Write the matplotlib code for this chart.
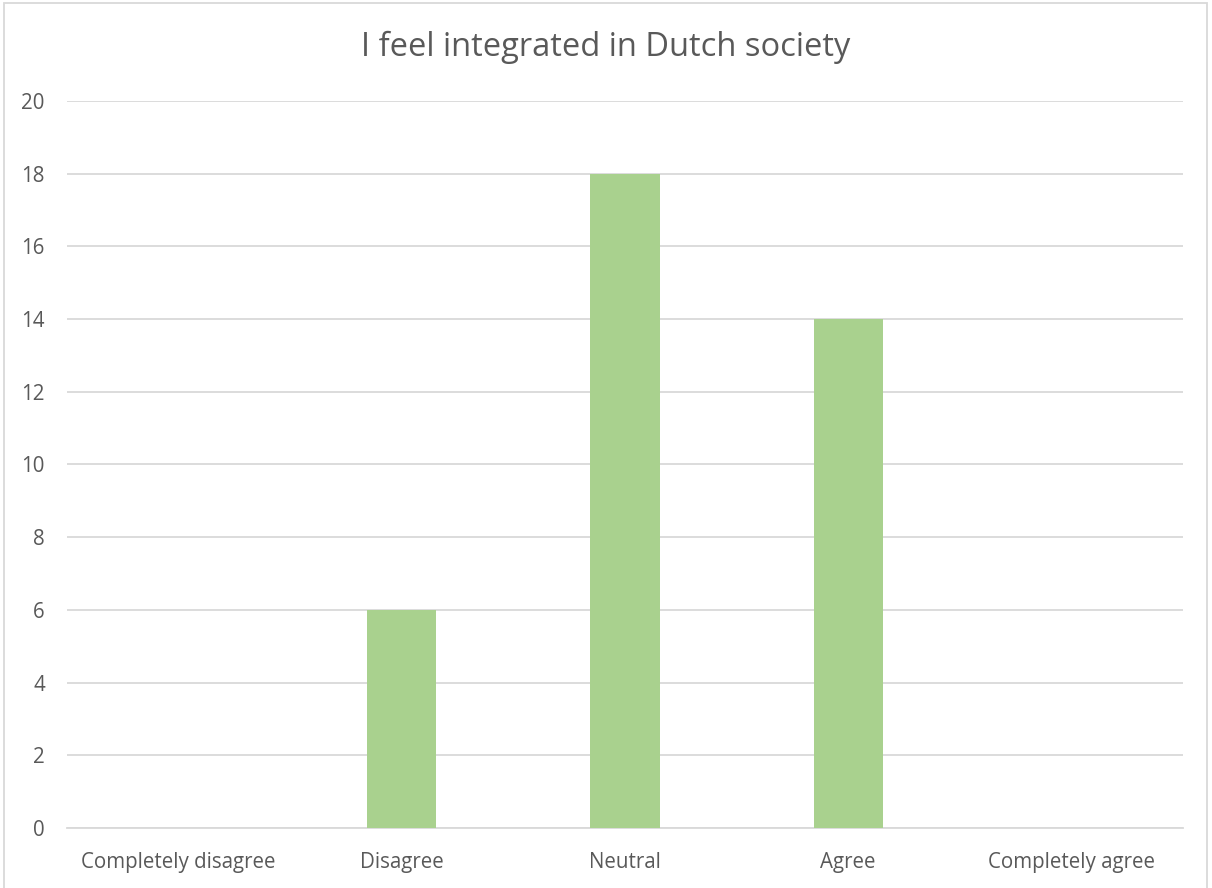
import matplotlib.pyplot as plt
from matplotlib.patches import Rectangle

categories = ["Completely disagree", "Disagree", "Neutral", "Agree", "Completely agree"]
counts = [0, 6, 18, 14, 0]
yticks = [0, 2, 4, 6, 8, 10, 12, 14, 16, 18, 20]

plt.rcParams['font.family'] = ['Open Sans', 'DejaVu Sans']
text_col = "#595959"
grid_col = "#D9D9D9"

fig = plt.figure(figsize=(12.12, 8.88), dpi=100)
ax = fig.add_axes([67 / 1212, 1 - 828 / 888, (1183 - 67) / 1212, (828 - 101) / 888])

x = range(len(categories))
ax.bar(x, counts, width=0.31, color="#A9D18E", zorder=3)

ax.set_xlim(-0.5, len(categories) - 0.5)
ax.set_ylim(0, 20)
ax.set_yticks(yticks)
ax.set_xticks(list(x))
ax.set_xticklabels(categories)
ax.yaxis.grid(True, color=grid_col, linewidth=1.3, zorder=0)
ax.tick_params(length=0, colors=text_col, labelsize=14.8)
ax.tick_params(axis='y', pad=16)
ax.tick_params(axis='x', pad=17)
for s in ["top", "right", "left"]:
    ax.spines[s].set_visible(False)
ax.spines["bottom"].set_color(grid_col)
ax.spines["bottom"].set_linewidth(1.3)

fig.text(0.5, 1 - 47 / 888, "I feel integrated in Dutch society", ha="center", va="center",
         fontsize=23.5, color=text_col)

# light frame around the chart area
fig.patches.append(Rectangle((4 / 1212, -0.01), 1203 / 1212, 1 - 3 / 888 + 0.01, transform=fig.transFigure,
                             fill=False, edgecolor=grid_col, linewidth=1.3))

fig.savefig("out.png", dpi=100)
